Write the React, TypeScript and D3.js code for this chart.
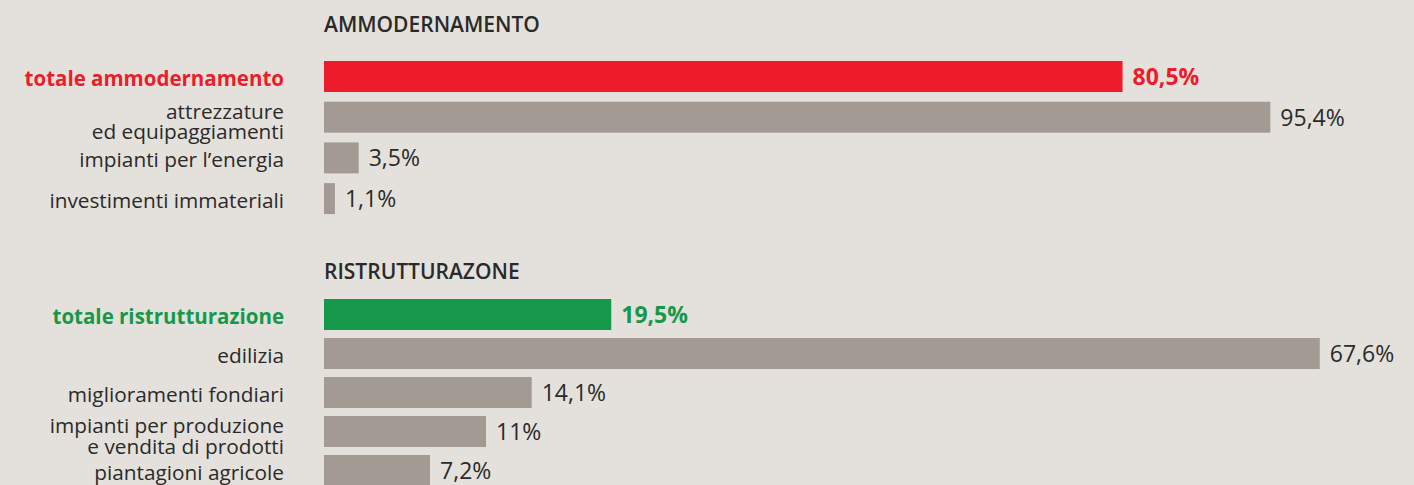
import React, { useEffect } from "react";
import * as d3 from "d3";

// section 1
const ammoTitle = "AMMODERNAMENTO";
const ammoLabels = [
  "totale ammodernamento",
  "attrezzature\ned equipaggiamenti",
  "impianti per l’energia",
  "investimenti immateriali",
];
const ammoValues = [80.5, 95.4, 3.5, 1.1];

// section 2
const ristTitle = "RISTRUTTURAZONE";
const ristLabels = [
  "totale ristrutturazione",
  "edilizia",
  "miglioramenti fondiari",
  "impianti per produzione\ne vendita di prodotti",
  "piantagioni agricole",
];
const ristValues = [19.5, 67.6, 14.1, 11, 7.2];

const W = 1414;
const H = 485;
const BG = "#e4e1dc";
const GREY = "#a39a94";
const TEXT = "#2a2a2a";
const FONT = "'Open Sans', sans-serif";

const fmt = (v: number) => String(v).replace(".", ",") + "%";

type SectionProps = {
  title: string;
  labels: string[];
  values: number[];
  accent: string;
  titleY: number;
  top: number;
  step: number;
  pxPerUnit: number;
};

function Section({ title, labels, values, accent, titleY, top, step, pxPerUnit }: SectionProps) {
  const x0 = 324;
  const labelX = 284;
  const barH = 31;
  const n = labels.length;
  const y = d3
    .scaleBand<number>()
    .domain(d3.range(n))
    .range([top, top + (n - 1) * step + barH])
    .paddingInner((step - barH) / step)
    .paddingOuter(0);
  const x = d3.scaleLinear().domain([0, 100]).range([x0, x0 + pxPerUnit * 100]);

  return (
    <g>
      <text x={x0} y={titleY} fontFamily={FONT} fontWeight={600} fontSize={21} fill={TEXT}>
        {title}
      </text>
      {values.map((v, i) => {
        const yy = y(i) as number;
        const cy = yy + y.bandwidth() / 2;
        const isTotal = i === 0;
        const lines = labels[i].split("\n");
        return (
          <g key={i}>
            <rect x={x(0)} y={yy} width={x(v) - x(0)} height={y.bandwidth()} fill={isTotal ? accent : GREY} />
            <text
              x={labelX}
              textAnchor="end"
              fontFamily={FONT}
              fontSize={isTotal ? 20.5 : 20.8}
              fontWeight={isTotal ? 700 : 400}
              fill={isTotal ? accent : TEXT}
            >
              {lines.length === 1 ? (
                <tspan x={labelX} y={cy + 9}>
                  {lines[0]}
                </tspan>
              ) : (
                lines.map((l, j) => (
                  <tspan key={j} x={labelX} y={cy + 1.5 + j * 20.5}>
                    {l}
                  </tspan>
                ))
              )}
            </text>
            <text
              x={x(v) + 10}
              y={cy + 8.5}
              fontFamily={FONT}
              fontSize={23}
              fontWeight={isTotal ? 700 : 400}
              fill={isTotal ? accent : TEXT}
            >
              {fmt(v)}
            </text>
          </g>
        );
      })}
    </g>
  );
}

export default function App() {
  useEffect(() => {
    document.body.style.margin = "0";
    document.body.style.background = BG;
  }, []);

  return (
    <svg width={W} height={H} style={{ display: "block", background: BG }}>
      <rect width={W} height={H} fill={BG} />
      <Section
        title={ammoTitle}
        labels={ammoLabels}
        values={ammoValues}
        accent="#ed1c2b"
        titleY={32}
        top={61}
        step={40.7}
        pxPerUnit={9.92}
      />
      <Section
        title={ristTitle}
        labels={ristLabels}
        values={ristValues}
        accent="#16984a"
        titleY={279}
        top={299}
        step={39}
        pxPerUnit={14.73}
      />
    </svg>
  );
}
